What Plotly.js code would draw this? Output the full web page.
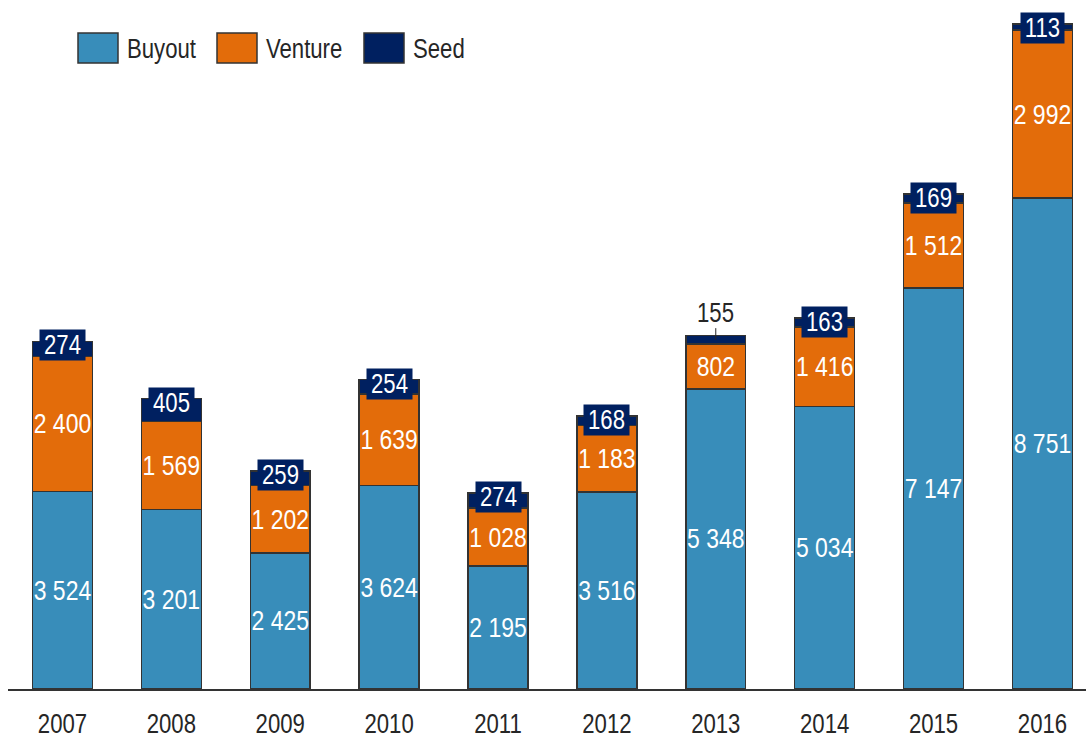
<!DOCTYPE html>
<html><head><meta charset="utf-8">
<script src="https://cdn.plot.ly/plotly-3.0.1.min.js"></script>
<style>html,body{margin:0;padding:0;background:#fff}#chart{width:1086px;height:739px}</style>
</head><body><div id="chart"></div>
<script>
const years = ['2007','2008','2009','2010','2011','2012','2013','2014','2015','2016'];
const buyout = [3524, 3201, 2425, 3624, 2195, 3516, 5348, 5034, 7147, 8751];
const venture = [2400, 1569, 1202, 1639, 1028, 1183, 802, 1416, 1512, 2992];
const seed = [274, 405, 259, 254, 274, 168, 155, 163, 169, 113];
const seedOutside = [false, false, false, false, false, false, true, false, false, false];
const seriesNames = ['Buyout', 'Venture', 'Seed'];

const FONT = 'Liberation Sans, Arial, sans-serif';
const NARROW = 0.82; // horizontal compression to mimic a narrow sans face
const C_BUY = '#388DBA', C_VEN = '#E36C0A', C_SEED = '#002060', EDGE = '#333333', TXT = '#262626';
const fmt = v => String(v).replace(/\B(?=(\d{3})+(?!\d))/g, ' ');

function barTrace(name, vals, color, showText) {
  return {
    type: 'bar', name: name, x: years, y: vals,
    marker: {color: color, line: {color: EDGE, width: 1.5}},
    width: 0.55,
    text: showText ? vals.map(fmt) : undefined,
    textposition: showText ? 'inside' : 'none',
    insidetextanchor: 'middle', textangle: 0, constraintext: 'none',
    textfont: {family: FONT, size: 28, color: '#ffffff'},
    hoverinfo: 'skip', showlegend: false
  };
}
const data = [
  barTrace(seriesNames[0], buyout, C_BUY, true),
  barTrace(seriesNames[1], venture, C_VEN, true),
  barTrace(seriesNames[2], seed, C_SEED, false)
];

const annotations = [];
years.forEach((yr, i) => {
  const total = buyout[i] + venture[i] + seed[i];
  if (seedOutside[i]) {
    annotations.push({x: i, y: buyout[i] + venture[i] + seed[i] / 2, xref: 'x', yref: 'y',
      text: fmt(seed[i]), showarrow: true, arrowhead: 0, arrowwidth: 1, arrowcolor: TXT,
      ax: 0, ay: -27, standoff: 0, borderpad: 0, font: {family: FONT, size: 27, color: TXT}});
  } else {
    annotations.push({x: i, y: total, xref: 'x', yref: 'y', yanchor: 'middle', yshift: -4,
      text: fmt(seed[i]), showarrow: false, bgcolor: C_SEED, borderpad: 0,
      font: {family: FONT, size: 27, color: '#ffffff'}});
  }
});

// custom legend (pixel positions converted to paper coordinates)
const L = 8, W = 1078, H = 689;
const px = v => (v - L) / W, py = v => (H - v) / H;
const legendColors = [C_BUY, C_VEN, C_SEED];
const legendX = [78, 217, 364];
const shapes = [];
seriesNames.forEach((name, k) => {
  const x0 = legendX[k];
  shapes.push({type: 'rect', xref: 'paper', yref: 'paper', x0: px(x0), x1: px(x0 + 40), y0: py(63), y1: py(33),
    fillcolor: legendColors[k], line: {color: EDGE, width: 1.5}});
  annotations.push({xref: 'paper', yref: 'paper', x: px(x0 + 48), y: py(49), xanchor: 'left', yanchor: 'middle',
    text: name, showarrow: false, borderpad: 0, font: {family: FONT, size: 27, color: TXT}});
});

const layout = {
  width: 1086, height: 739,
  margin: {l: 8, r: 0, t: 0, b: 50},
  paper_bgcolor: '#ffffff', plot_bgcolor: '#ffffff',
  barmode: 'stack', showlegend: false,
  xaxis: {type: 'category', range: [-0.5, 9.4], showline: true, linecolor: EDGE, linewidth: 1.5,
    showgrid: false, zeroline: false, ticks: '', ticklabelstandoff: 10,
    tickfont: {family: FONT, size: 27, color: TXT}},
  yaxis: {range: [0, 12282], visible: false, showgrid: false, zeroline: false},
  annotations: annotations, shapes: shapes
};
Plotly.newPlot('chart', data, layout, {staticPlot: true, displayModeBar: false}).then(gd => {
  gd.querySelectorAll('text').forEach(t => {
    const w = t.getComputedTextLength();
    if (w > 0) {
      t.setAttribute('textLength', (w * NARROW).toFixed(2));
      t.setAttribute('lengthAdjust', 'spacingAndGlyphs');
      if (seriesNames.includes(t.textContent)) {
        // keep left edge of left-anchored legend labels in place
        t.setAttribute('dx', (-(w * (1 - NARROW)) / 2).toFixed(2));
      }
    }
  });
});
</script></body></html>
